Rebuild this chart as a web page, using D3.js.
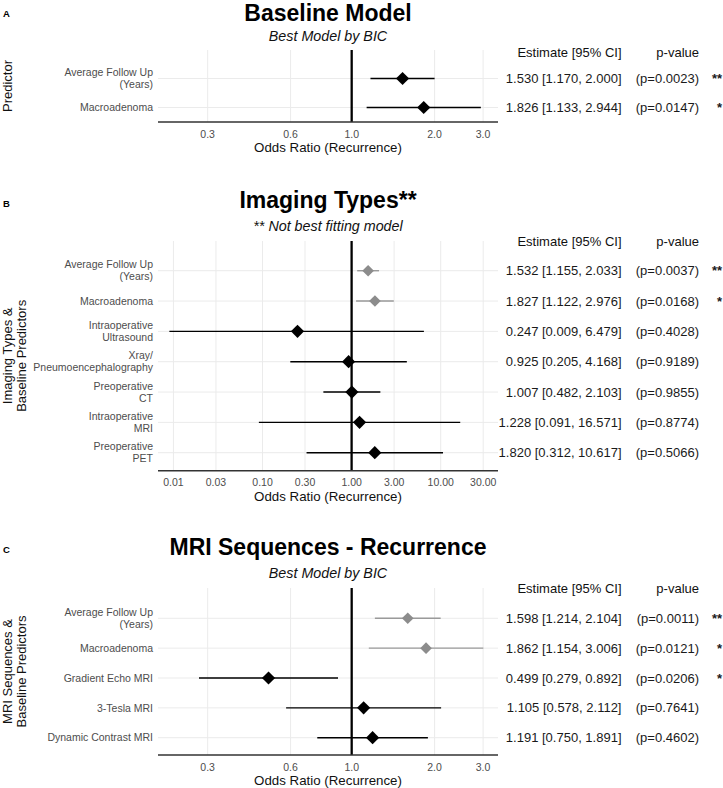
<!DOCTYPE html>
<html><head><meta charset="utf-8">
<script src="https://cdn.jsdelivr.net/npm/d3@7"></script>
<style>
body{margin:0;background:#fff}
svg{display:block}
text{font-family:"Liberation Sans",Arial,Helvetica,sans-serif}
</style>
</head><body>
<svg id="chart" width="723" height="788"></svg>
<script>
// ---------- Panel A: Baseline Model ----------
const labelsA = ["Average Follow Up\n(Years)", "Macroadenoma"];
const estA = [1.530, 1.826];
const lowA = [1.170, 1.133];
const highA = [2.000, 2.944];
const pA = [0.0023, 0.0147];
const starsA = ["**", "*"];
const baseA = [false, false];

// ---------- Panel B: Imaging Types ----------
const labelsB = ["Average Follow Up\n(Years)", "Macroadenoma", "Intraoperative\nUltrasound",
  "Xray/\nPneumoencephalography", "Preoperative\nCT", "Intraoperative\nMRI", "Preoperative\nPET"];
const estB = [1.532, 1.827, 0.247, 0.925, 1.007, 1.228, 1.820];
const lowB = [1.155, 1.122, 0.009, 0.205, 0.482, 0.091, 0.312];
const highB = [2.033, 2.976, 6.479, 4.168, 2.103, 16.571, 10.617];
const pB = [0.0037, 0.0168, 0.4028, 0.9189, 0.9855, 0.8774, 0.5066];
const starsB = ["**", "*", "", "", "", "", ""];
const baseB = [true, true, false, false, false, false, false];

// ---------- Panel C: MRI Sequences ----------
const labelsC = ["Average Follow Up\n(Years)", "Macroadenoma", "Gradient Echo MRI", "3-Tesla MRI", "Dynamic Contrast MRI"];
const estC = [1.598, 1.862, 0.499, 1.105, 1.191];
const lowC = [1.214, 1.154, 0.279, 0.578, 0.750];
const highC = [2.104, 3.006, 0.892, 2.112, 1.891];
const pC = [0.0011, 0.0121, 0.0206, 0.7641, 0.4602];
const starsC = ["**", "*", "*", "", ""];
const baseC = [true, true, false, false, false];

// ---------- Tick labels ----------
const ticksAC = [0.3, 0.6, 1.0, 2.0, 3.0];
const tickLabelsAC = ["0.3", "0.6", "1.0", "2.0", "3.0"];
const ticksB = [0.01, 0.03, 0.1, 0.3, 1, 3, 10, 30];
const tickLabelsB = ["0.01", "0.03", "0.10", "0.30", "1.00", "3.00", "10.00", "30.00"];

// ---------- Layout ----------
const panels = [
  {letter:"A", title:"Baseline Model", subtitle:"Best Model by BIC", ytitle:["Predictor"],
   labels:labelsA, est:estA, low:lowA, high:highA, p:pA, stars:starsA, base:baseA,
   ticks:ticksAC, tickLabels:tickLabelsAC, domain:[0.19806, 3.398],
   letterY:17, titleY:21, subY:41, headY:56.5, top:50, first:78.5, last:107.5, axisY:122},
  {letter:"B", title:"Imaging Types**", subtitle:"** Not best fitting model", ytitle:["Imaging Types &","Baseline Predictors"],
   labels:labelsB, est:estB, low:lowB, high:highB, p:pB, stars:starsB, base:baseB,
   ticks:ticksB, tickLabels:tickLabelsB, domain:[0.00671, 43.98],
   letterY:207, titleY:207.5, subY:231, headY:246, top:241, first:270.7, last:452.7, axisY:470.7},
  {letter:"C", title:"MRI Sequences - Recurrence", subtitle:"Best Model by BIC", ytitle:["MRI Sequences &","Baseline Predictors"],
   labels:labelsC, est:estC, low:lowC, high:highC, p:pC, stars:starsC, base:baseC,
   ticks:ticksAC, tickLabels:tickLabelsAC, domain:[0.19806, 3.398],
   letterY:553, titleY:555, subY:578, headY:593, top:588, first:618.3, last:737.7, axisY:755}
];

const plotLeft = 158, plotRight = 498;
const estRight = 621.5, pRight = 699, starRight = 722;
const svg = d3.select("#chart");
const f3 = d3.format(".3f"), f4 = d3.format(".4f");
const gridCol = "#ebebeb";

panels.forEach(P => {
  const g = svg.append("g");
  const x = d3.scaleLog().domain(P.domain).range([plotLeft, plotRight]);
  const y = d3.scalePoint().domain(d3.range(P.labels.length)).range([P.first, P.last]);
  const cx = (plotLeft + plotRight) / 2;

  g.append("text").attr("x", 3).attr("y", P.letterY).attr("font-size", 9.5)
    .attr("font-weight", "bold").text(P.letter);
  g.append("text").attr("x", cx).attr("y", P.titleY).attr("text-anchor", "middle")
    .attr("font-size", 23).attr("font-weight", "bold").attr("fill", "#000").text(P.title);
  g.append("text").attr("x", cx).attr("y", P.subY).attr("text-anchor", "middle")
    .attr("font-size", 14.3).attr("font-style", "italic").attr("fill", "#111").text(P.subtitle);

  const yc = (P.top + P.axisY) / 2;
  P.ytitle.forEach((t, i) => {
    g.append("text").attr("transform", `translate(${12 + i * 14},${yc}) rotate(-90)`)
      .attr("text-anchor", "middle").attr("font-size", 13).attr("fill", "#111").text(t);
  });

  g.selectAll(".vg").data(P.ticks).join("line")
    .attr("x1", d => x(d)).attr("x2", d => x(d))
    .attr("y1", P.top).attr("y2", P.axisY)
    .attr("stroke", gridCol).attr("stroke-width", 1);
  g.selectAll(".hg").data(d3.range(P.labels.length)).join("line")
    .attr("x1", plotLeft).attr("x2", plotRight)
    .attr("y1", d => y(d)).attr("y2", d => y(d))
    .attr("stroke", gridCol).attr("stroke-width", 1);

  g.append("line").attr("x1", x(1)).attr("x2", x(1)).attr("y1", P.top).attr("y2", P.axisY)
    .attr("stroke", "#000").attr("stroke-width", 2.3);

  g.append("line").attr("x1", plotLeft).attr("x2", plotRight).attr("y1", P.axisY).attr("y2", P.axisY)
    .attr("stroke", "#333").attr("stroke-width", 1.4);

  g.selectAll(".tl").data(P.ticks).join("text")
    .attr("x", d => x(d)).attr("y", P.axisY + 15.5).attr("text-anchor", "middle")
    .attr("font-size", 10.5).attr("fill", "#4d4d4d")
    .text((d, i) => P.tickLabels[i]);
  g.append("text").attr("x", cx).attr("y", P.axisY + 30).attr("text-anchor", "middle")
    .attr("font-size", 13.3).attr("fill", "#111").text("Odds Ratio (Recurrence)");

  P.labels.forEach((lab, i) => {
    const lines = lab.split("\n");
    const t = g.append("text").attr("text-anchor", "end").attr("font-size", 10.5).attr("fill", "#4d4d4d");
    lines.forEach((ln, j) => {
      t.append("tspan").attr("x", 153)
        .attr("y", y(i) + (j - (lines.length - 1) / 2) * 11.8)
        .attr("dy", "0.35em").text(ln);
    });
  });

  const idx = d3.range(P.labels.length);
  g.selectAll(".eb").data(idx).join("line")
    .attr("x1", i => x(P.low[i])).attr("x2", i => x(P.high[i]))
    .attr("y1", i => y(i)).attr("y2", i => y(i))
    .attr("stroke", i => P.base[i] ? "#9a9a9a" : "#000")
    .attr("stroke-width", 1.4);
  g.selectAll(".dm").data(idx).join("path")
    .attr("d", i => {
      const r = P.base[i] ? 5.8 : 6.6;
      const px = x(P.est[i]), py = y(i);
      return `M${px},${py - r}L${px + r},${py}L${px},${py + r}L${px - r},${py}Z`;
    })
    .attr("fill", i => P.base[i] ? "#8c8c8c" : "#000");

  g.append("text").attr("x", estRight).attr("y", P.headY).attr("text-anchor", "end")
    .attr("font-size", 13).attr("fill", "#111").text("Estimate [95% CI]");
  g.append("text").attr("x", pRight).attr("y", P.headY).attr("text-anchor", "end")
    .attr("font-size", 13).attr("fill", "#111").text("p-value");

  g.selectAll(".est").data(idx).join("text")
    .attr("x", estRight).attr("y", i => y(i)).attr("dy", "0.35em").attr("text-anchor", "end")
    .attr("font-size", 13).attr("fill", "#1a1a1a")
    .text(i => `${f3(P.est[i])} [${f3(P.low[i])}, ${f3(P.high[i])}]`);
  g.selectAll(".pv").data(idx).join("text")
    .attr("x", pRight).attr("y", i => y(i)).attr("dy", "0.35em").attr("text-anchor", "end")
    .attr("font-size", 13).attr("fill", "#1a1a1a")
    .text(i => `(p=${f4(P.p[i])})`);
  g.selectAll(".st").data(idx).join("text")
    .attr("x", starRight).attr("y", i => y(i)).attr("dy", "0.35em").attr("text-anchor", "end")
    .attr("font-size", 13).attr("font-weight", "bold").attr("fill", "#1a1a1a")
    .text(i => P.stars[i]);
});
</script>
</body></html>
